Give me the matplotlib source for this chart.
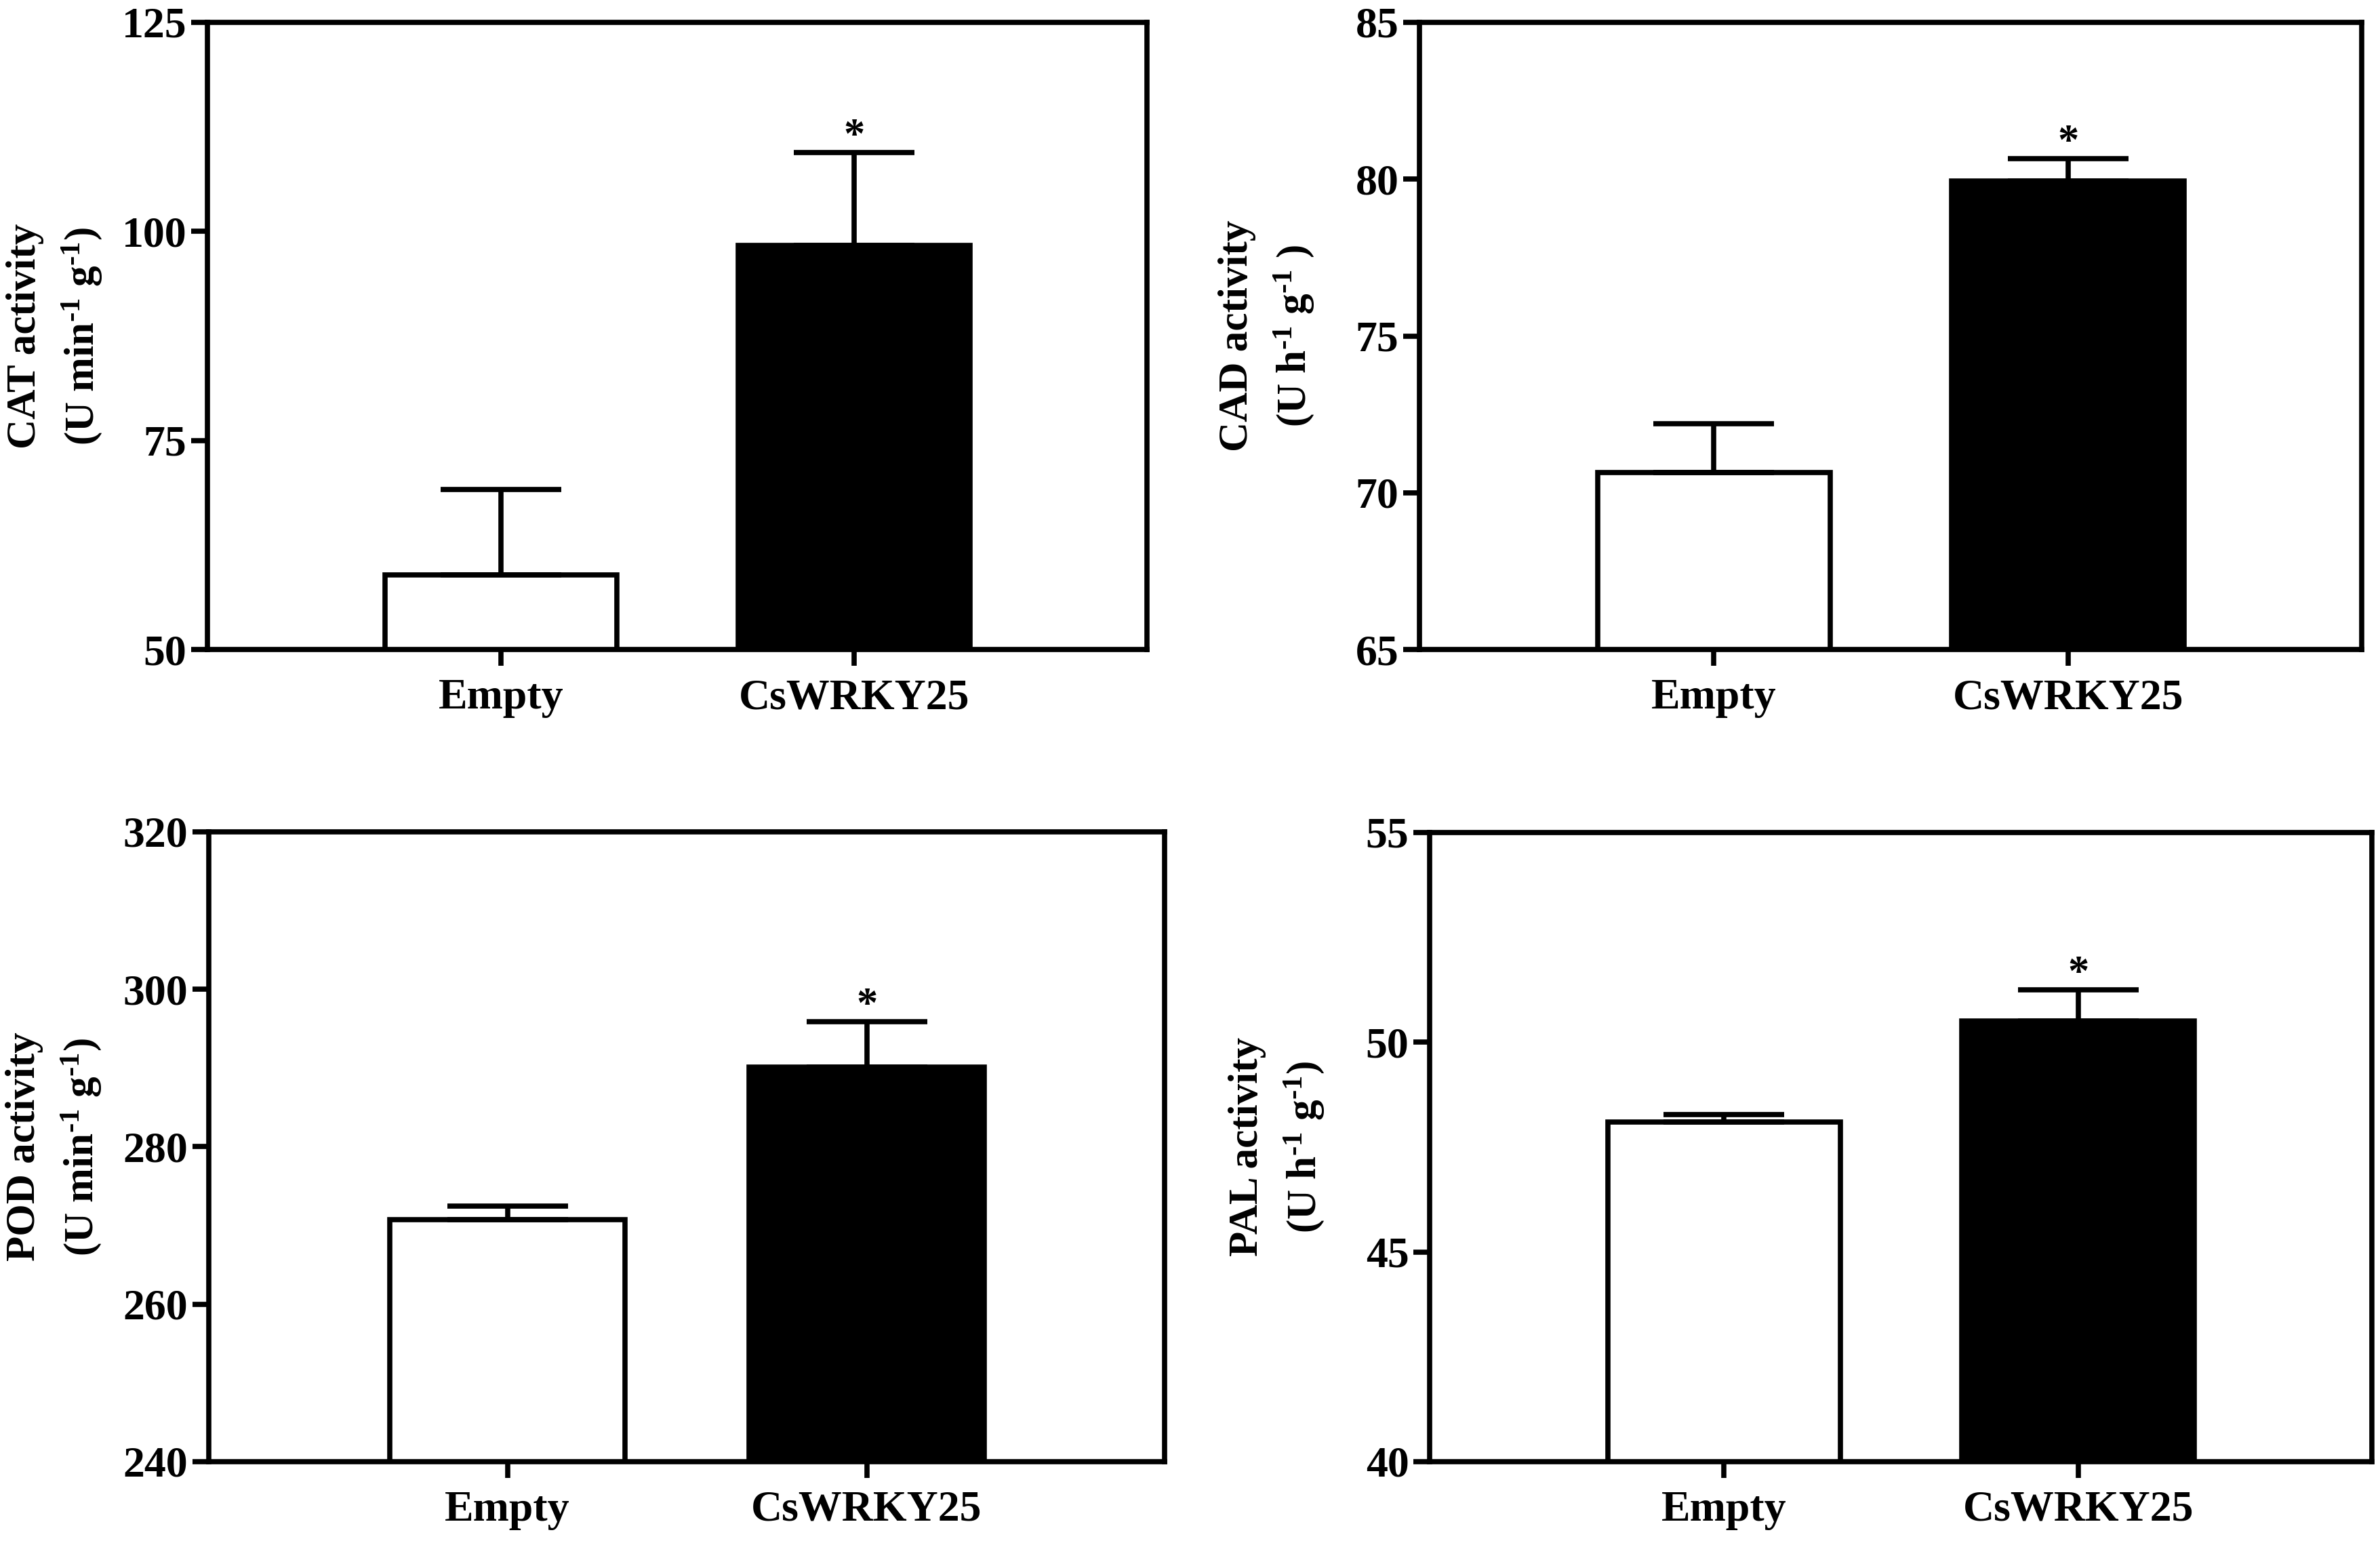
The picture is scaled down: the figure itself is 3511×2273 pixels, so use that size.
import matplotlib
matplotlib.use("Agg")
import matplotlib.pyplot as plt

# fuente tipo Times en negrita
plt.rcParams['font.family'] = ['Liberation Serif', 'DejaVu Serif']
plt.rcParams['font.weight'] = 'bold'
plt.rcParams['mathtext.fontset'] = 'custom'
plt.rcParams['mathtext.rm'] = 'Liberation Serif:bold'
plt.rcParams['mathtext.it'] = 'Liberation Serif:bold:italic'
plt.rcParams['mathtext.bf'] = 'Liberation Serif:bold'

# datos
groups = ['Empty', 'CsWRKY25']
bar_colors = ['white', 'black']

cat_mean = [58.9, 98.3]
cat_err = [10.2, 11.1]
cad_mean = [70.65, 79.95]
cad_err = [1.55, 0.7]
pod_mean = [270.7, 290.1]
pod_err = [1.8, 5.8]
pal_mean = [48.09, 50.51]
pal_err = [0.18, 0.74]

cat_ticks = [50, 75, 100, 125]
cad_ticks = [65, 70, 75, 80, 85]
pod_ticks = [240, 260, 280, 300, 320]
pal_ticks = [40, 45, 50, 55]

signif = ['', '*']

sup = r'$^{\text{-}1}$'

panels = [
    ([0.0871, 0.5785, 0.3946, 0.4070], cat_mean, cat_err, cat_ticks,
     'CAT activity\n(U min' + sup + ' g' + sup + ')'),
    ([0.5962, 0.5785, 0.3958, 0.4070], cad_mean, cad_err, cad_ticks,
     'CAD activity\n(U h' + sup + ' g' + sup + ' )'),
    ([0.0877, 0.0515, 0.4015, 0.4087], pod_mean, pod_err, pod_ticks,
     'POD activity\n(U min' + sup + ' g' + sup + ')'),
    ([0.6005, 0.0515, 0.3958, 0.4083], pal_mean, pal_err, pal_ticks,
     'PAL activity\n(U h' + sup + ' g' + sup + ')'),
]

LW = 5.5

fig = plt.figure(figsize=(35.12, 22.73), dpi=100)

for rect, means, errs, ticks, label in panels:
    ax = fig.add_axes(rect)
    x = list(range(len(groups)))
    ax.bar(x, means, width=0.656, color=bar_colors, edgecolor='black',
           linewidth=LW, zorder=2)
    ax.errorbar(x, means, yerr=[[0] * len(errs), errs], fmt='none',
                ecolor='black', elinewidth=LW, capsize=64, capthick=LW,
                zorder=3)
    for xi, m, e, s in zip(x, means, errs, signif):
        if s:
            ax.annotate(s, xy=(xi, m + e), xytext=(0, 5), textcoords='offset points',
                        ha='center', va='baseline', fontsize=45, fontweight='bold')

    ax.set_xlim(-0.831, 1.829)
    ax.set_ylim(ticks[0], ticks[-1])
    ax.set_yticks(ticks)
    ax.set_xticks(x)
    ax.set_xticklabels(groups)

    for sp in ax.spines.values():
        sp.set_linewidth(LW)
    ax.tick_params(axis='y', direction='out', length=17, width=LW,
                   labelsize=46, pad=5)
    ax.tick_params(axis='x', direction='out', length=17, width=LW,
                   labelsize=46, pad=14)

    ax.set_ylabel(label, fontsize=44, fontweight='bold', linespacing=1.5)
    ax.yaxis.set_label_coords(-0.162, 0.5)
    ax.yaxis.label.set_va('center')

fig.savefig('out.png', dpi=100, facecolor='white')
